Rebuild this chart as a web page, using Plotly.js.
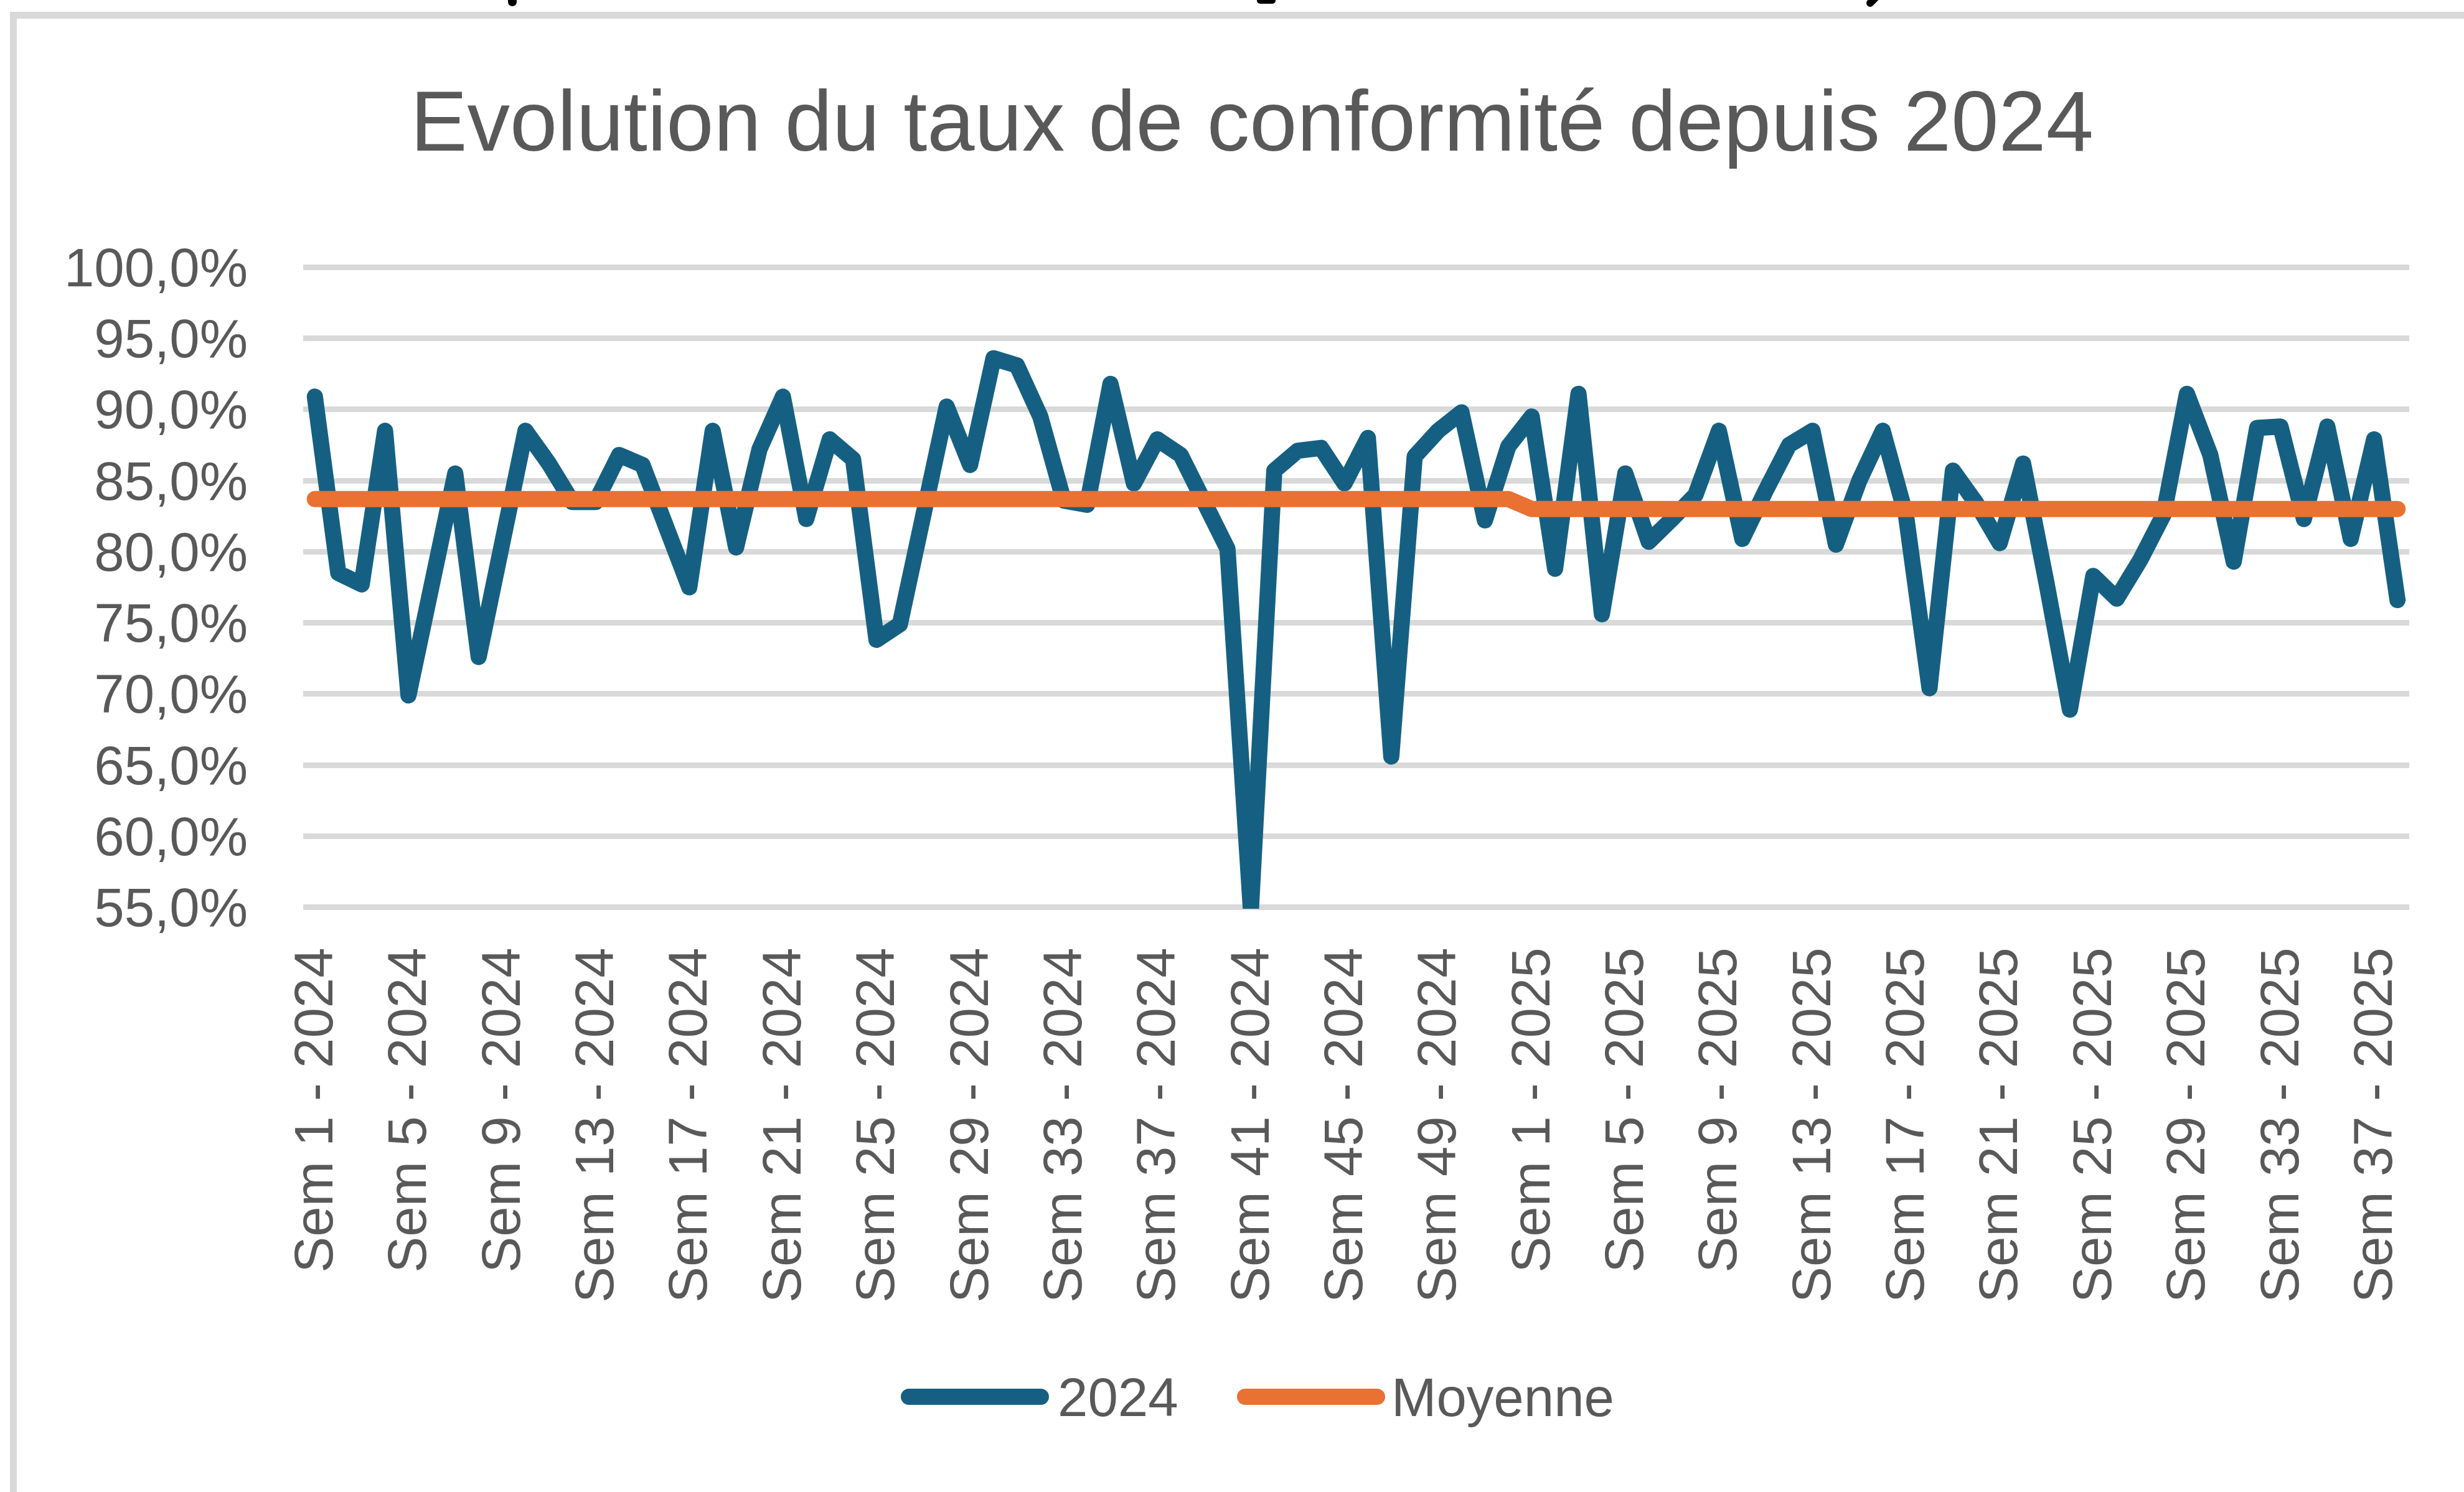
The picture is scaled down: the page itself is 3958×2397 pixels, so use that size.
<!DOCTYPE html>
<html>
<head>
<meta charset="utf-8">
<script src="https://cdn.plot.ly/plotly-3.0.1.min.js"></script>
<style>
  html, body { margin: 0; padding: 0; background: #ffffff; }
  #chart { width: 3958px; height: 2397px; }
  .scatterlayer .js-line { stroke-linejoin: round !important; stroke-linecap: round !important; }
  .shapelayer path { stroke-linecap: round; }
</style>
</head>
<body>
<div id="chart"></div>
<script>
// ---------- DATA ----------
const chartTitle = 'Evolution du taux de conformité depuis 2024';
const seriesNames = ['2024', 'Moyenne'];

const weeks2024 = [1,2,3,4,5,6,7,8,9,10,11,12,13,14,15,16,17,18,19,20,21,22,23,24,25,26,
                   27,28,29,30,31,32,33,34,35,36,37,38,39,40,41,42,43,44,45,46,47,48,49,50,51,52];
const weeks2025 = [1,2,3,4,5,6,7,8,9,10,11,12,13,14,15,16,17,18,19,
                   20,21,22,23,24,25,26,27,28,29,30,31,32,33,34,35,36,37,38];

const categories = weeks2024.map(w => 'Sem ' + w + ' - 2024')
  .concat(weeks2025.map(w => 'Sem ' + w + ' - 2025'));

// taux de conformité (%)
const taux = [
  90.9, 78.5, 77.7, 88.5, 69.9, 77.8, 85.5, 72.6, 80.5, 88.5,
  86.2, 83.5, 83.5, 86.8, 86.1, 81.6, 77.5, 88.5, 80.3, 87.2,
  90.9, 82.3, 87.9, 86.5, 73.8, 74.9, 82.2, 90.2, 86.1, 93.6,
  93.1, 89.5, 83.6, 83.3, 91.8, 84.8, 87.9, 86.8, 83.5, 80.2,
  54.8, 85.7, 87.1, 87.3, 84.8, 88.0, 65.6, 86.7, 88.5, 89.8,
  82.2, 87.4, 89.5, 78.8, 91.1, 75.6, 85.5, 80.7, 82.3, 84.0,
  88.5, 80.9, 84.3, 87.5, 88.5, 80.5, 85.0, 88.5, 82.5, 70.4,
  85.7, 83.4, 80.6, 86.2, 77.8, 68.9, 78.3, 76.7, 79.4, 82.6,
  91.1, 86.8, 79.3, 88.7, 88.8, 82.3, 88.8, 80.9, 87.9, 76.6
];

const moyenne = [
  83.7, 83.7, 83.7, 83.7, 83.7, 83.7, 83.7, 83.7, 83.7, 83.7,
  83.7, 83.7, 83.7, 83.7, 83.7, 83.7, 83.7, 83.7, 83.7, 83.7,
  83.7, 83.7, 83.7, 83.7, 83.7, 83.7, 83.7, 83.7, 83.7, 83.7,
  83.7, 83.7, 83.7, 83.7, 83.7, 83.7, 83.7, 83.7, 83.7, 83.7,
  83.7, 83.7, 83.7, 83.7, 83.7, 83.7, 83.7, 83.7, 83.7, 83.7,
  83.7, 83.7, 83.0, 83.0, 83.0, 83.0, 83.0, 83.0, 83.0, 83.0,
  83.0, 83.0, 83.0, 83.0, 83.0, 83.0, 83.0, 83.0, 83.0, 83.0,
  83.0, 83.0, 83.0, 83.0, 83.0, 83.0, 83.0, 83.0, 83.0, 83.0,
  83.0, 83.0, 83.0, 83.0, 83.0, 83.0, 83.0, 83.0, 83.0, 83.0
];

const yTickValues = [55, 60, 65, 70, 75, 80, 85, 90, 95, 100];
const yTickLabels = ['55,0%', '60,0%', '65,0%', '70,0%', '75,0%', '80,0%', '85,0%', '90,0%', '95,0%', '100,0%'];

// ---------- STYLE ----------
const W = 3958, H = 2397;
const M = { l: 487, r: 88, t: 427, b: 937 };
const PW = W - M.l - M.r, PH = H - M.t - M.b;
const px = v => (v - M.l) / PW;          // pixel x -> paper x
const py = v => (M.t + PH - v) / PH;     // pixel y -> paper y

const BLUE = '#156082', ORANGE = '#E97132', GRID = '#d9d9d9', TXT = '#595959';
const FONT = 'Liberation Sans, Arial, sans-serif';

const tickCats = categories.filter((c, i) => i % 4 === 0);

const traces = [
  { type: 'scatter', mode: 'lines', name: seriesNames[0], x: categories, y: taux,
    line: { color: BLUE, width: 26 }, hoverinfo: 'skip' },
  { type: 'scatter', mode: 'lines', name: seriesNames[1], x: categories, y: moyenne,
    line: { color: ORANGE, width: 26 }, hoverinfo: 'skip' }
];

const legendSym = [
  { x0: 1460, x1: 1672, color: BLUE, tx: 1697, label: seriesNames[0] },
  { x0: 2000, x1: 2212, color: ORANGE, tx: 2233, label: seriesNames[1] }
];
const LEG_Y = 2244;

const shapes = [
  // chart frame (cut by the picture on the right and bottom)
  { type: 'rect', xref: 'paper', yref: 'paper', x0: px(21.5), x1: px(4200), y0: py(24.5), y1: py(2600),
    line: { color: GRID, width: 11 }, fillcolor: 'rgba(0,0,0,0)', layer: 'below' },
  // descenders of the heading cut off above the frame
  { type: 'line', xref: 'paper', yref: 'paper', x0: px(823), x1: px(823), y0: py(-10), y1: py(3),
    line: { color: '#000000', width: 14 } },
  { type: 'line', xref: 'paper', yref: 'paper', x0: px(2024), x1: px(2044), y0: py(1), y1: py(1),
    line: { color: '#000000', width: 10 } },
  { type: 'line', xref: 'paper', yref: 'paper', x0: px(3004), x1: px(3014), y0: py(5), y1: py(-5),
    line: { color: '#000000', width: 12 } }
].concat(legendSym.map(s => ({
  type: 'line', xref: 'paper', yref: 'paper', x0: px(s.x0), x1: px(s.x1), y0: py(LEG_Y), y1: py(LEG_Y),
  line: { color: s.color, width: 26 }
})));

const annotations = legendSym.map(s => ({
  xref: 'paper', yref: 'paper', x: px(s.tx), y: py(LEG_Y), xanchor: 'left', yanchor: 'middle',
  text: s.label, showarrow: false, font: { family: FONT, size: 87, color: TXT }
}));

const layout = {
  width: W, height: H,
  margin: M,
  paper_bgcolor: '#ffffff', plot_bgcolor: '#ffffff',
  showlegend: false,
  title: {
    text: chartTitle,
    font: { family: FONT, size: 137, color: TXT },
    xref: 'container', yref: 'container',
    x: 2011 / W, xanchor: 'center',
    y: 1 - 146 / H, yanchor: 'top'
  },
  xaxis: {
    type: 'category',
    range: [-0.5, categories.length - 0.5],
    tickmode: 'array', tickvals: tickCats, ticktext: tickCats,
    tickangle: -90,
    tickfont: { family: FONT, size: 87, color: TXT },
    ticks: '', showgrid: false, zeroline: false,
    showline: false,
    ticklabelstandoff: 44,
    automargin: false, fixedrange: true
  },
  yaxis: {
    range: [54.9, 100.1],
    tickmode: 'array', tickvals: yTickValues, ticktext: yTickLabels,
    tickfont: { family: FONT, size: 87, color: TXT },
    ticks: '', showgrid: true, gridcolor: GRID, gridwidth: 9,
    zeroline: false, showline: false,
    ticklabelstandoff: 88,
    automargin: false, fixedrange: true
  },
  shapes: shapes,
  annotations: annotations
};

Plotly.newPlot('chart', traces, layout, { displayModeBar: false, staticPlot: true });
</script>
</body>
</html>
